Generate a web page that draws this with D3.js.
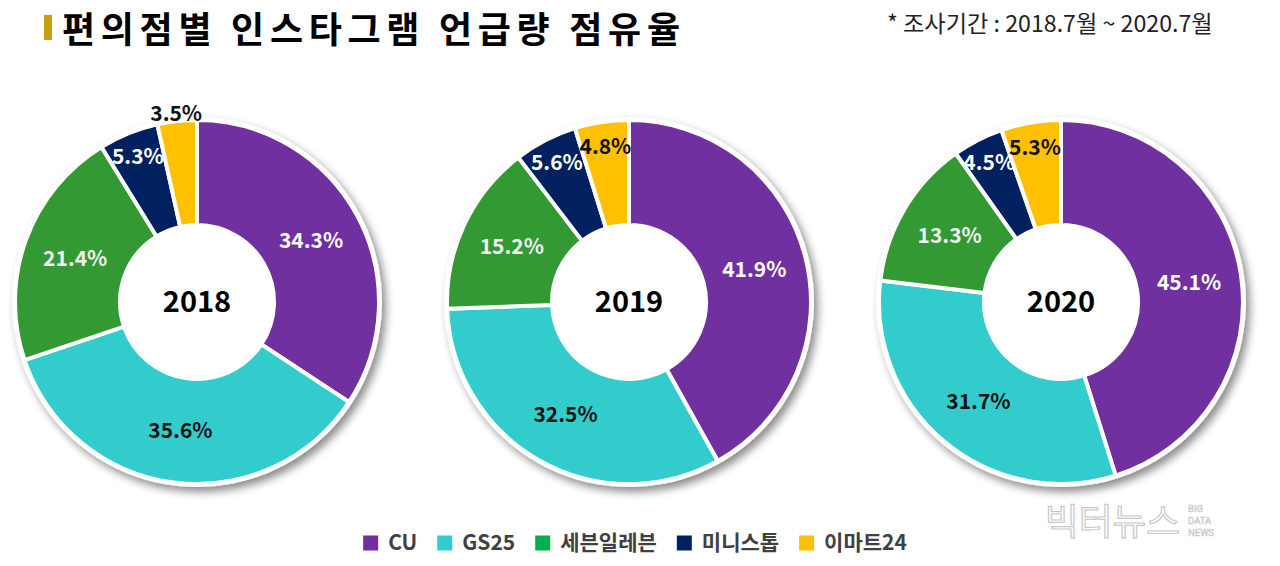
<!DOCTYPE html>
<html><head><meta charset="utf-8">
<script src="https://cdn.jsdelivr.net/npm/d3@7"></script>
<style>
html,body{margin:0;padding:0;background:#fff;}
svg{display:block;font-family:"Noto Sans CJK KR","Noto Sans",sans-serif;}
</style></head>
<body><svg id="c" width="1280" height="566"></svg>
<script>
const stores = ["CU", "GS25", "세븐일레븐", "미니스톱", "이마트24"];
const years = ["2018", "2019", "2020"];
const share2018 = [34.3, 35.6, 21.4, 5.3, 3.5];
const share2019 = [41.9, 32.5, 15.2, 5.6, 4.8];
const share2020 = [45.1, 31.7, 13.3, 4.5, 5.3];
const shares = [share2018, share2019, share2020];
const sliceColors = ["#7030A0", "#33CCCC", "#339933", "#002060", "#FFC000"];
const legendColors = ["#7030A0", "#33CCCC", "#00B050", "#002060", "#FFC000"];
const labelColors = ["#ffffff", "#111111", "#f2f2f2", "#ffffff", "#111111"];
const title = "편의점별 인스타그램 언급량 점유율";
const subtitle = "* 조사기간 : 2018.7월 ~ 2020.7월";

const svg = d3.select("#c");
const defs = svg.append("defs");
const f = defs.append("filter").attr("id","sh").attr("x","-20%").attr("y","-20%").attr("width","140%").attr("height","140%");
f.append("feDropShadow").attr("dx",4).attr("dy",5).attr("stdDeviation",4).attr("flood-color","#000").attr("flood-opacity",0.45);

function fitText(sel, targetW) {
  const fs = +sel.attr("font-size");
  const w = sel.node().getComputedTextLength();
  sel.attr("font-size", fs * targetW / w);
}

// Title
svg.append("rect").attr("x",44).attr("y",15).attr("width",8).attr("height",25).attr("fill","#C9A012");
svg.append("text").attr("x",62).attr("y",43).attr("font-size",36).attr("font-weight",700)
  .attr("textLength",618).attr("lengthAdjust","spacing").attr("fill","#000").text(title);
const st = svg.append("text").attr("x",887).attr("y",32).attr("font-size",19).attr("fill","#222").text(subtitle);
fitText(st, 326);

// Donuts
const xPos = d3.scalePoint().domain(years).range([197, 1061]);
const cy = 302, rOuter = 182, rInner = 77;
const pie = d3.pie().sort(null).value(d => d);
const arc = d3.arc().innerRadius(rInner).outerRadius(rOuter);

years.forEach((yr, i) => {
  const g = svg.append("g").attr("transform", `translate(${xPos(yr)},${cy})`);
  const arcs = pie(shares[i]);
  g.append("circle").attr("r", rOuter + 3).attr("fill","#fff").attr("filter","url(#sh)");
  g.selectAll("path.s").data(arcs).join("path").attr("class","s")
    .attr("d", arc).attr("fill", (d, j) => sliceColors[j])
    .attr("stroke","#fff").attr("stroke-width",4).attr("stroke-linejoin","miter");
  g.append("circle").attr("r", rInner).attr("fill","#fff");
  g.selectAll("text.l").data(arcs).join("text").attr("class","l")
    .attr("transform", d => {
      const v = d.data;
      const r = v < 4 ? 190 : (v < 8 ? 157 : (rInner + rOuter) / 2);
      const a = (d.startAngle + d.endAngle) / 2;
      return `translate(${Math.sin(a) * r},${-Math.cos(a) * r})`;
    })
    .attr("text-anchor","middle").attr("dy","0.36em")
    .attr("font-size",21).attr("font-weight",700)
    .attr("fill", (d, j) => labelColors[j])
    .text(d => d.data.toFixed(1) + "%");
  g.append("text").attr("text-anchor","middle").attr("dy","0.36em")
    .attr("font-size",29).attr("font-weight",700).attr("fill","#000").text(yr);
});

// Legend
const lg = svg.append("g");
let x = 0;
stores.forEach((s, j) => {
  lg.append("rect").attr("x", x).attr("y", -7.5).attr("width",15).attr("height",15).attr("fill", legendColors[j]);
  const t = lg.append("text").attr("x", x + 25).attr("y", 0).attr("dy","0.35em")
    .attr("font-size",21).attr("font-weight",700).attr("fill","#404040").text(s);
  x += 25 + t.node().getComputedTextLength() + 20;
});
const lw = x - 20;
lg.attr("transform", `translate(${635 - lw / 2},543)`);

// Watermark
const wm = svg.append("g");
wm.append("text").attr("x",1045).attr("y",535).attr("font-size",36).attr("font-weight",400)
  .attr("textLength",135).attr("lengthAdjust","spacingAndGlyphs")
  .attr("fill","#fff").attr("stroke","#c8c8c8").attr("stroke-width",1.2).text("빅터뉴스");
["BIG","DATA","NEWS"].forEach((w, k) => {
  wm.append("text").attr("x",1188).attr("y",512 + k * 12).attr("font-size",9.5)
    .attr("font-family","Roboto").attr("fill","#fff").attr("stroke","#c8c8c8").attr("stroke-width",0.6).text(w);
});
</script></body></html>
